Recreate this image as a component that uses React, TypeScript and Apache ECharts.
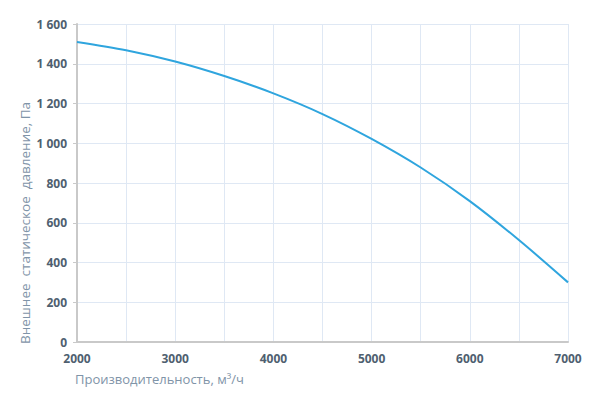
import React, { useEffect, useRef } from "react";
import * as echarts from "echarts";

const flowRates = [2000, 2500, 3000, 3500, 4000, 4500, 5000, 5500, 6000, 6500, 7000];
const pressures = [1510, 1468, 1411, 1338, 1251, 1147, 1022, 878, 709, 513, 300];
const xTitle = "Производительность, м³/ч";
const yTitle = "Внешнее  статическое  давление, Па";

const FONT = "'Open Sans', 'Noto Sans', sans-serif";

export default function App() {
  const ref = useRef<HTMLDivElement>(null);
  useEffect(() => {
    if (!ref.current) return;
    const chart = echarts.init(ref.current, null, { renderer: "svg" });
    chart.setOption({
      animation: false,
      grid: { left: 77, right: 42, top: 24, bottom: 61, containLabel: false },
      xAxis: {
        type: "value",
        min: 2000,
        max: 7000,
        interval: 500,
        axisLine: { show: true, onZero: false, lineStyle: { color: "#c9c9c9", width: 2 } },
        axisTick: { show: false },
        splitLine: { show: true, lineStyle: { color: "#dfe8f4", width: 1 } },
        axisLabel: {
          color: "#4f5f70",
          fontFamily: FONT,
          fontSize: 12,
          fontWeight: "bold",
          margin: 10,
          formatter: (v: number) => (v % 1000 === 0 ? String(v) : ""),
        },
      },
      yAxis: {
        type: "value",
        min: 0,
        max: 1600,
        interval: 200,
        axisLine: { show: true, lineStyle: { color: "#c9c9c9", width: 2 } },
        axisTick: { show: true, length: 4, lineStyle: { color: "#c9c9c9" } },
        splitLine: { show: true, lineStyle: { color: "#dfe8f4", width: 1 } },
        axisLabel: {
          color: "#4f5f70",
          fontFamily: FONT,
          fontSize: 12,
          fontWeight: "bold",
          margin: 10,
          formatter: (v: number) => String(v).replace(/\B(?=(\d{3})+(?!\d))/g, " "),
        },
      },
      graphic: [
        {
          type: "text",
          left: 75,
          top: 372,
          style: {
            text: xTitle,
            fill: "#7f94a8",
            font: `13px ${FONT}`,
          },
        },
        {
          type: "text",
          x: 25,
          y: 344,
          rotation: Math.PI / 2,
          style: {
            text: yTitle,
            fill: "#7f94a8",
            font: `13.5px ${FONT}`,
            textAlign: "left",
            textVerticalAlign: "middle",
          },
        },
      ],
      series: [
        {
          type: "line",
          data: flowRates.map((x, i) => [x, pressures[i]]),
          smooth: 0.3,
          showSymbol: false,
          lineStyle: { color: "#2fa5de", width: 2 },
        },
      ],
    });
    return () => chart.dispose();
  }, []);
  return <div ref={ref} style={{ width: 610, height: 403, margin: -8 }} />;
}
